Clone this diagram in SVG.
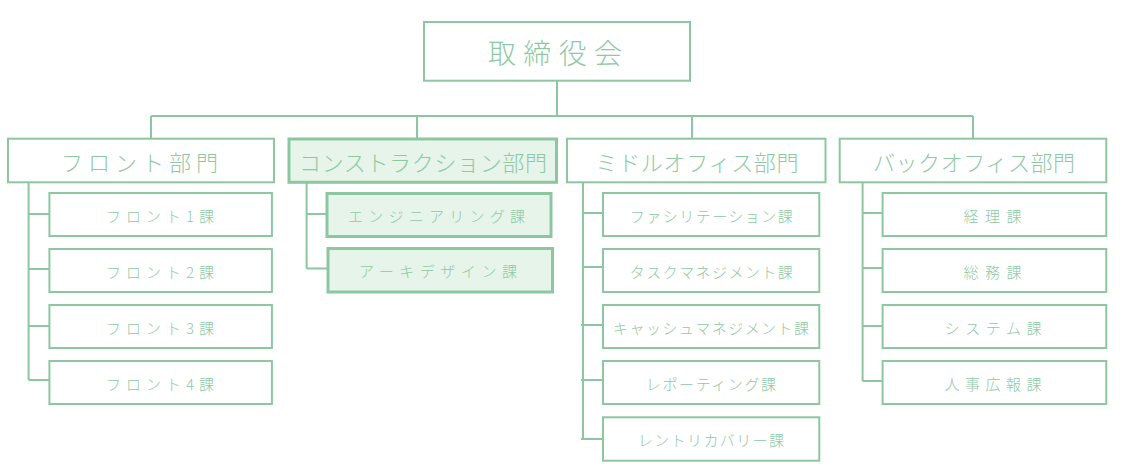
<svg xmlns="http://www.w3.org/2000/svg" width="1122" height="473" viewBox="0 0 1122 473">
<style>
.box{fill:#ffffff;stroke:#8cc7a1;stroke-width:2}
.hl{fill:#e6f4ea;stroke:#8cc7a1;stroke-width:3}
.ln{fill:none;stroke:#8cc7a1;stroke-width:2}
text{font-family:"Noto Sans CJK JP","Noto Sans",sans-serif;font-weight:300;fill:#8fc9a4;text-anchor:middle}
.t1{font-size:28px}
.t2{font-size:22px}
.t3{font-size:15px}
</style>
<rect width="1122" height="473" fill="#ffffff"/>
<g id="connectors">
<path class="ln" d="M557 81V116M151 116H973M151 116V138M417 116V138M692 116V138M973 116V138"/>
<path class="ln" d="M28.6 182V380M28.6 214H49M28.6 269H49M28.6 326H49M28.6 380H49"/>
<path class="ln" d="M306.6 182V268.5M306.6 214H327M306.6 268.5H327"/>
<path class="ln" d="M583 182V439M583 213H603M581 325H603M581 380H603M581 439H603M583 267H603"/>
<path class="ln" d="M862.6 182V381M862.6 213H883M862.6 268H883M862.6 326H883M862.6 381H883"/>
</g>
<g id="board"><rect class="box" x="424" y="22" width="266" height="58.7"/><text class="t1" x="555" y="64" textLength="134">取締役会</text></g>
<g id="front"><rect class="box" x="8" y="138.7" width="266" height="43.6"/><text class="t2" x="139.5" y="171" textLength="157">フロント部門</text></g>
<g id="construction"><rect class="hl" x="289" y="139" width="267.5" height="43.3"/><text class="t2" x="423" y="171" textLength="248">コンストラクション部門</text></g>
<g id="middle"><rect class="box" x="567" y="138.7" width="258.5" height="43.6"/><text class="t2" x="697" y="171" textLength="203">ミドルオフィス部門</text></g>
<g id="back"><rect class="box" x="839.7" y="138.7" width="266.6" height="43.6"/><text class="t2" x="974" y="171" textLength="202">バックオフィス部門</text></g>
<g id="front1"><rect class="box" x="49.4" y="193" width="222.5" height="43"/><text class="t3" x="160" y="221.5" textLength="108">フロント1課</text></g>
<g id="front2"><rect class="box" x="49.4" y="249" width="222.5" height="43"/><text class="t3" x="160" y="277.5" textLength="108">フロント2課</text></g>
<g id="front3"><rect class="box" x="49.4" y="305" width="222.5" height="43"/><text class="t3" x="160" y="333.5" textLength="108">フロント3課</text></g>
<g id="front4"><rect class="box" x="49.4" y="361" width="222.5" height="43"/><text class="t3" x="160" y="389.5" textLength="108">フロント4課</text></g>
<g id="engineering"><rect class="hl" x="327" y="193.5" width="224" height="43"/><text class="t3" x="436.5" y="221.5" textLength="177">エンジニアリング課</text></g>
<g id="archdesign"><rect class="hl" x="328" y="248.5" width="224.5" height="43.5"/><text class="t3" x="438" y="277" textLength="158">アーキデザイン課</text></g>
<g id="facilitation"><rect class="box" x="603" y="193" width="216.3" height="43"/><text class="t3" x="711.3" y="221.5" textLength="163">ファシリテーション課</text></g>
<g id="taskmgmt"><rect class="box" x="603" y="249" width="216.3" height="43"/><text class="t3" x="711.3" y="277.5" textLength="163">タスクマネジメント課</text></g>
<g id="cashmgmt"><rect class="box" x="603" y="305" width="216.3" height="43"/><text class="t3" x="711" y="333.5" textLength="196">キャッシュマネジメント課</text></g>
<g id="reporting"><rect class="box" x="603" y="361" width="216.3" height="43"/><text class="t3" x="711" y="389.5" textLength="130">レポーティング課</text></g>
<g id="rentrecovery"><rect class="box" x="603" y="417.3" width="216.3" height="43.4"/><text class="t3" x="711" y="446" textLength="146">レントリカバリー課</text></g>
<g id="accounting"><rect class="box" x="882.6" y="193" width="223.7" height="43"/><text class="t3" x="992.6" y="221.5" textLength="58">経理課</text></g>
<g id="general"><rect class="box" x="882.6" y="249" width="223.7" height="43"/><text class="t3" x="992.6" y="277.5" textLength="58">総務課</text></g>
<g id="system"><rect class="box" x="882.6" y="305" width="223.7" height="43"/><text class="t3" x="993" y="333.5" textLength="97">システム課</text></g>
<g id="hrpr"><rect class="box" x="882.6" y="361" width="223.7" height="43"/><text class="t3" x="993" y="389.5" textLength="97">人事広報課</text></g>
</svg>
